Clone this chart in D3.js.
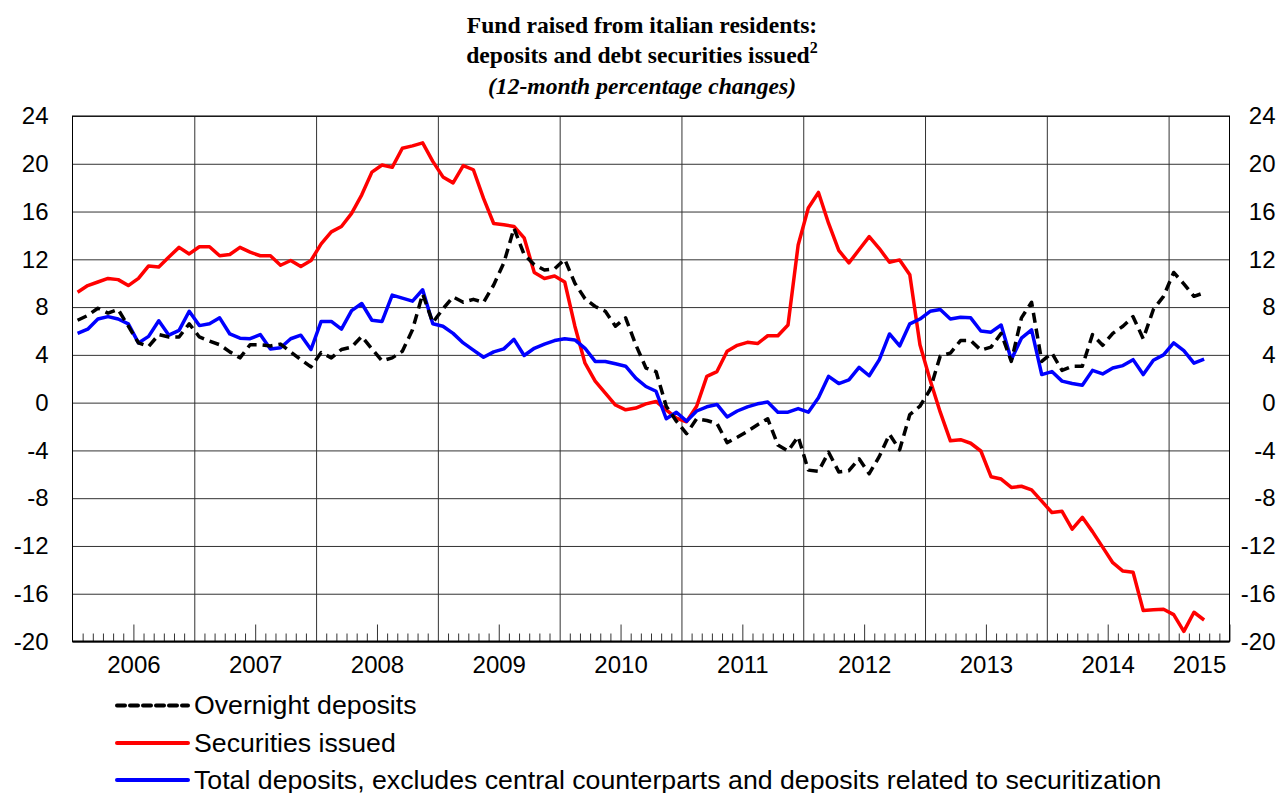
<!DOCTYPE html>
<html>
<head>
<meta charset="utf-8">
<title>Fund raised from italian residents</title>
<script src="https://cdn.jsdelivr.net/npm/d3@7/dist/d3.min.js"></script>
<style>
  body { margin: 0; background: #fff; }
  svg { display: block; }
  .axis-label { font-family: "Liberation Sans", Arial, sans-serif; font-size: 24px; fill: #000; }
  .title { font-family: "Liberation Serif", "Times New Roman", serif; font-weight: bold; font-size: 23.6px; fill: #000; }
  .legend text { font-family: "Liberation Sans", Arial, sans-serif; font-size: 26.7px; fill: #000; }
  .grid line { stroke: #333; stroke-width: 1; }
  .grid path { display: none; }
</style>
</head>
<body>
<script>
// monthly data, Jan 2006 .. Apr 2015
const startYear = 2006;
const yearLabels = ['2006', '2007', '2008', '2009', '2010', '2011', '2012', '2013', '2014', '2015'];
const yTicks = [-20, -16, -12, -8, -4, 0, 4, 8, 12, 16, 20, 24];
const totalMonths = 114; // axis runs to end of Jun 2015

const overnight = [
  6.9, 7.3, 7.9, 7.5, 7.8, 6.4, 5.0, 4.7, 5.7, 5.5, 5.5, 6.6,
  5.5, 5.15, 4.85, 4.25, 3.75, 4.85, 4.85, 4.75, 4.9, 4.25, 3.6, 3.0,
  4.2, 3.75, 4.45, 4.65, 5.55, 4.5, 3.5, 3.75, 4.3, 6.1, 9.1, 6.7,
  7.85, 8.85, 8.4, 8.65, 8.4, 9.85, 11.7, 14.6, 12.4, 11.55, 11.1, 11.2,
  12.0, 10.0, 8.7, 8.05, 7.65, 6.4, 7.1, 4.85, 2.9, 2.6, -0.3, -1.55,
  -2.6, -1.35, -1.5, -1.75, -3.35, -2.9, -2.4, -1.85, -1.35, -3.55, -4.05, -2.85,
  -5.65, -5.75, -4.15, -5.8, -5.7, -4.7, -5.95, -4.5, -2.65, -3.95, -1.0, -0.3,
  1.1, 3.9, 4.15, 5.2, 5.2, 4.4, 4.65, 5.8, 3.45, 7.1, 8.4, 3.45,
  4.15, 2.7, 3.05, 3.05, 5.7, 4.8, 5.8, 6.4, 7.2, 5.35, 7.8, 8.9,
  10.9, 9.95, 8.9, 9.2
];

const securities = [
  9.25, 9.8, 10.1, 10.4, 10.3, 9.8, 10.4, 11.45, 11.35, 12.2, 13.0, 12.45,
  13.05, 13.05, 12.3, 12.4, 13.0, 12.6, 12.3, 12.3, 11.5, 11.9, 11.4, 11.9,
  13.3, 14.3, 14.75, 15.85, 17.4, 19.3, 19.9, 19.7, 21.3, 21.5, 21.75, 20.2,
  18.9, 18.4, 19.85, 19.5, 17.1, 15.0, 14.9, 14.75, 13.8, 10.9, 10.4, 10.6,
  10.1, 6.4, 3.3, 1.8, 0.8, -0.2, -0.6, -0.45, -0.1, 0.1, -0.6, -1.3,
  -1.6, -0.3, 2.2, 2.6, 4.3, 4.8, 5.05, 4.95, 5.6, 5.6, 6.5, 13.2,
  16.3, 17.6, 15.0, 12.75, 11.7, 12.8, 13.9, 12.9, 11.75, 11.95, 10.7, 4.85,
  1.9, -0.8, -3.2, -3.1, -3.4, -4.05, -6.2, -6.4, -7.1, -7.0, -7.3, -8.25,
  -9.2, -9.1, -10.6, -9.6, -10.8, -12.1, -13.4, -14.1, -14.2, -17.4, -17.35, -17.3,
  -17.75, -19.15, -17.55, -18.2
];

const totalDeposits = [
  5.8, 6.15, 7.0, 7.2, 7.0, 6.6, 5.0, 5.55, 6.85, 5.65, 6.05, 7.65,
  6.45, 6.6, 7.1, 5.75, 5.4, 5.35, 5.7, 4.5, 4.6, 5.35, 5.65, 4.45,
  6.8, 6.8, 6.15, 7.7, 8.3, 6.9, 6.8, 9.0, 8.75, 8.5, 9.45, 6.6,
  6.4, 5.8, 5.0, 4.4, 3.8, 4.25, 4.5, 5.3, 3.95, 4.55, 4.9, 5.2,
  5.35, 5.25, 4.55, 3.45, 3.45, 3.25, 3.05, 2.05, 1.35, 0.95, -1.35, -0.8,
  -1.55, -0.7, -0.35, -0.15, -1.2, -0.7, -0.35, -0.1, 0.05, -0.8, -0.8, -0.5,
  -0.8, 0.4, 2.2, 1.6, 1.9, 2.95, 2.25, 3.6, 5.75, 4.75, 6.6, 7.0,
  7.65, 7.8, 7.0, 7.15, 7.1, 6.0, 5.9, 6.5, 3.6, 5.4, 6.1, 2.35,
  2.6, 1.8, 1.6, 1.45, 2.7, 2.4, 2.9, 3.1, 3.6, 2.35, 3.55, 4.0,
  5.0, 4.35, 3.3, 3.65
];

const seriesNames = [
  'Overnight deposits',
  'Securities issued',
  'Total deposits, excludes central counterparts and deposits related to securitization'
];
const seriesColors = ['#000', '#ff0000', '#0000ff'];

const W = 1279, H = 793;
const plot = {left: 72.5, right: 1229.5, top: 116, bottom: 641.5};

const svg = d3.select('body').append('svg')
  .attr('width', W)
  .attr('height', H);

const x = d3.scaleLinear().domain([0, totalMonths]).range([plot.left, plot.right]);
const y = d3.scaleLinear().domain([-20, 24]).range([plot.bottom, plot.top]);

// title
const title = svg.append('text').attr('class', 'title').attr('text-anchor', 'middle');
title.append('tspan').attr('x', 642).attr('y', 33).text('Fund raised from italian residents:');
title.append('tspan').attr('x', 642).attr('y', 63).text('deposits and debt securities issued');
title.append('tspan').attr('dy', -10).style('font-size', '16px').text('2');
title.append('tspan').attr('x', 642).attr('y', 94).style('font-style', 'italic')
  .text('(12-month percentage changes)');

// horizontal grid
svg.append('g')
  .attr('class', 'grid')
  .attr('transform', 'translate(' + plot.left + ',0)')
  .call(d3.axisLeft(y).tickValues(yTicks).tickSize(-(plot.right - plot.left)).tickFormat(''));

// vertical grid at year boundaries
const yearStarts = yearLabels.map((d, i) => i * 12);
svg.append('g')
  .attr('class', 'grid')
  .attr('transform', 'translate(0,' + plot.bottom + ')')
  .call(d3.axisBottom(x).tickValues(yearStarts.slice(1)).tickSize(-(plot.bottom - plot.top)).tickFormat(''));

// month ticks
const monthTicks = d3.range(1, totalMonths + 1).filter(m => m % 12 !== 0 && m % 12 !== 6);
const midTicks = d3.range(6, totalMonths + 1, 12);
svg.append('g')
  .attr('class', 'grid')
  .attr('transform', 'translate(0,' + plot.bottom + ')')
  .call(d3.axisBottom(x).tickValues(monthTicks).tickSize(-8).tickFormat(''));
svg.append('g')
  .attr('class', 'grid')
  .attr('transform', 'translate(0,' + plot.bottom + ')')
  .call(d3.axisBottom(x).tickValues(midTicks).tickSize(-17).tickFormat(''));

// frame
svg.append('rect')
  .attr('x', plot.left).attr('y', plot.top)
  .attr('width', plot.right - plot.left).attr('height', plot.bottom - plot.top)
  .attr('fill', 'none').attr('stroke', '#000').attr('stroke-width', 1);
svg.append('line')
  .attr('x1', plot.left).attr('x2', plot.right)
  .attr('y1', plot.bottom).attr('y2', plot.bottom)
  .attr('stroke', '#000').attr('stroke-width', 2);

// y labels, both sides (plain hyphen for negatives, like the source)
const fmt = d => String(d);
svg.append('g')
  .attr('transform', 'translate(' + plot.left + ',0)')
  .call(d3.axisLeft(y).tickValues(yTicks).tickSize(0).tickPadding(24).tickFormat(fmt))
  .call(g => g.select('.domain').remove())
  .selectAll('text').attr('class', 'axis-label').attr('font-size', null).attr('font-family', null);
svg.append('g')
  .attr('transform', 'translate(' + plot.right + ',0)')
  .call(d3.axisRight(y).tickValues(yTicks).tickSize(0).tickFormat(fmt))
  .call(g => g.select('.domain').remove())
  .selectAll('text').attr('class', 'axis-label').attr('font-size', null).attr('font-family', null)
  .attr('text-anchor', 'end').attr('x', 46);

// year labels
const labelPos = yearStarts.map(s => (s + Math.min(s + 12, totalMonths)) / 2);
svg.append('g')
  .attr('transform', 'translate(0,' + plot.bottom + ')')
  .call(d3.axisBottom(x).tickValues(labelPos).tickSize(0).tickPadding(14)
    .tickFormat((d, i) => yearLabels[i]))
  .call(g => g.select('.domain').remove())
  .selectAll('text').attr('class', 'axis-label').attr('font-size', null).attr('font-family', null);

// lines
const line = d3.line()
  .x((d, i) => x(i + 0.5))
  .y(d => y(d));

const drawOrder = [
  {data: securities, color: seriesColors[1], dash: null},
  {data: totalDeposits, color: seriesColors[2], dash: null},
  {data: overnight, color: seriesColors[0], dash: '10,6'}
];
drawOrder.forEach(s => {
  svg.append('path')
    .datum(s.data)
    .attr('fill', 'none')
    .attr('stroke', s.color)
    .attr('stroke-width', 3.5)
    .attr('stroke-linejoin', 'round')
    .attr('stroke-dasharray', s.dash)
    .attr('d', line);
});

// legend
const legend = svg.append('g').attr('class', 'legend');
const legendY = [705.5, 743, 780];
seriesNames.forEach((name, i) => {
  legend.append('line')
    .attr('x1', 117).attr('x2', 188)
    .attr('y1', legendY[i]).attr('y2', legendY[i])
    .attr('stroke', seriesColors[i])
    .attr('stroke-width', 4)
    .attr('stroke-linecap', 'round')
    .attr('stroke-dasharray', i === 0 ? '8,5' : null);
  legend.append('text')
    .attr('x', 194).attr('y', legendY[i] + 8.5)
    .text(name);
});
</script>
</body>
</html>
